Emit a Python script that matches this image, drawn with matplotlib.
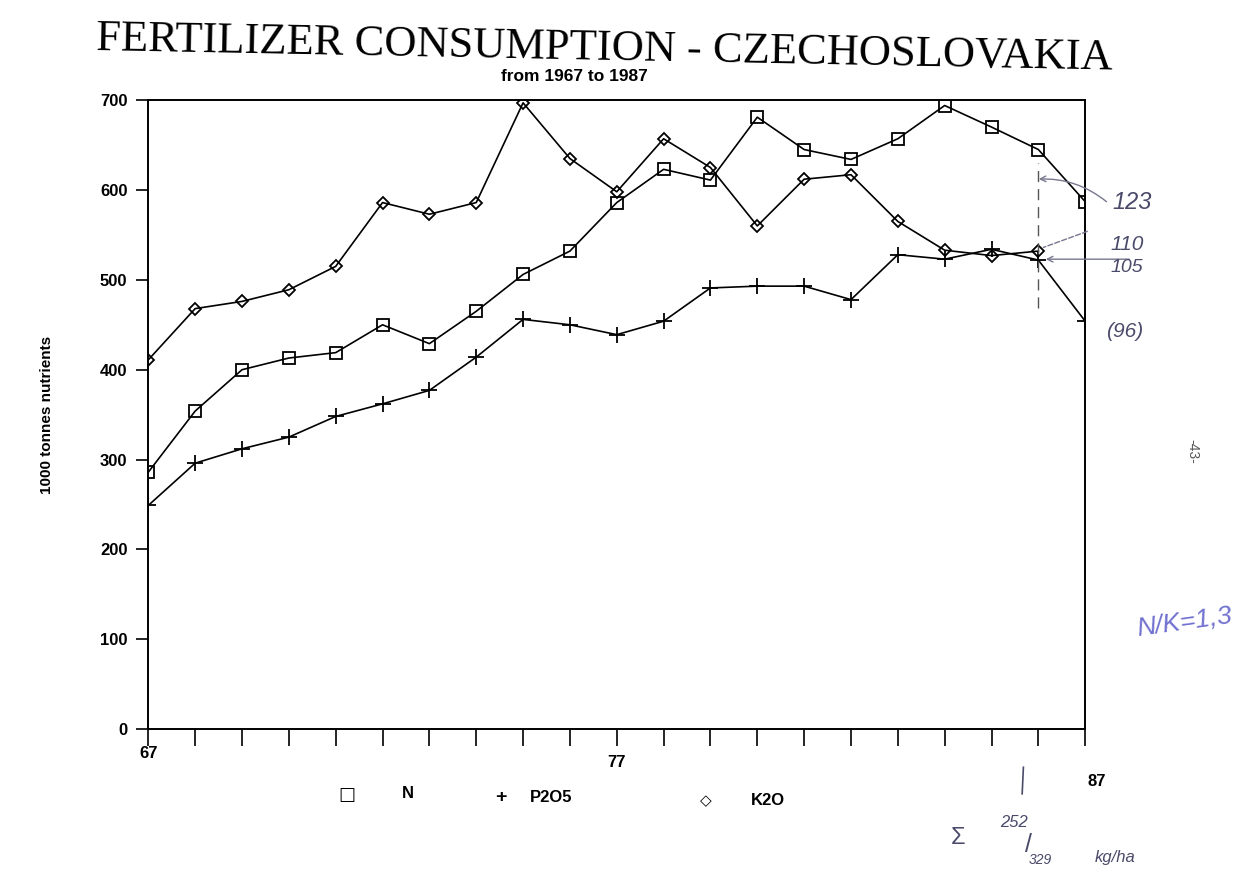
import matplotlib.pyplot as plt
from matplotlib.ticker import FixedLocator, NullFormatter

# Fertilizer consumption, Czechoslovakia 1967-1987 (1000 t nutrients)
years = list(range(67, 88))
n_vals = [286, 354, 400, 413, 419, 450, 429, 465, 506, 532, 586,
          623, 611, 681, 645, 634, 657, 694, 670, 645, 587]
p2o5_vals = [249, 296, 312, 325, 348, 362, 377, 414, 456, 450, 439,
             454, 491, 493, 493, 478, 528, 523, 534, 522, 454]
k2o_years = list(range(67, 87))
k2o_vals = [411, 468, 476, 489, 515, 586, 573, 586, 697, 635, 598,
            657, 625, 560, 612, 617, 565, 533, 527, 532]

y_ticks = [0, 100, 200, 300, 400, 500, 600, 700]
x_labels = [67, 77, 87]

plt.rcParams['font.family'] = 'Liberation Sans'

fig = plt.figure(figsize=(12.36, 8.86), dpi=100)
ax = fig.add_axes([0.120, 0.177, 0.758, 0.710])

ax.plot(years, n_vals, color='black', linewidth=1.2, marker='s', markersize=9,
        markerfacecolor='none', markeredgewidth=1.3)
ax.plot(years, p2o5_vals, color='black', linewidth=1.2, marker='+', markersize=12,
        markeredgewidth=1.3)
ax.plot(k2o_years, k2o_vals, color='black', linewidth=1.2, marker='D', markersize=6,
        markerfacecolor='none', markeredgewidth=1.3)

ax.set_xlim(67, 87)
ax.set_ylim(0, 700)
for s in ax.spines.values():
    s.set_linewidth(1.4)

ax.set_yticks(y_ticks)
ax.set_yticklabels([str(v) for v in y_ticks], fontweight='bold', fontsize=12)
ax.tick_params(axis='y', direction='out', length=9, width=1.2, pad=6)

ax.xaxis.set_major_locator(FixedLocator(years))
ax.xaxis.set_major_formatter(NullFormatter())
ax.tick_params(axis='x', direction='out', length=12, width=1.2)
for xv, dy in zip(x_labels, [-0.038, -0.053, -0.083]):
    ax.text(xv + (0.25 if xv == 87 else 0), dy, str(xv), transform=ax.get_xaxis_transform(),
            ha='center', va='center', fontweight='bold', fontsize=12)

ax.set_ylabel('1000 tonnes nutrients', fontweight='bold', fontsize=11, labelpad=33)

fig.text(0.489, 0.945, 'FERTILIZER CONSUMPTION - CZECHOSLOVAKIA', ha='center', va='center',
         family='Liberation Serif', fontsize=32, rotation=-1.1)
fig.text(0.465, 0.914, 'from 1967 to 1987', ha='center', va='center',
         fontweight='bold', fontsize=12.5)

# legend row
fig.text(0.281, 0.103, '\u25a1', ha='center', va='center', fontsize=13, family='DejaVu Sans')
fig.text(0.330, 0.104, 'N', ha='center', va='center', fontsize=12, fontweight='bold')
fig.text(0.405, 0.100, '+', ha='center', va='center', fontsize=14, fontweight='bold')
fig.text(0.446, 0.100, 'P2O5', ha='center', va='center', fontsize=12, fontweight='bold')
fig.text(0.571, 0.096, '\u25c7', ha='center', va='center', fontsize=11, family='DejaVu Sans')
fig.text(0.621, 0.096, 'K2O', ha='center', va='center', fontsize=12, fontweight='bold')

# handwritten notes on the scan
ink = '#4a4a6a'
fig.text(0.916, 0.771, '123', ha='center', va='center', fontsize=17, color=ink, style='italic')
fig.text(0.912, 0.724, '110', ha='center', va='center', fontsize=15, color=ink, style='italic')
fig.text(0.912, 0.698, '105', ha='center', va='center', fontsize=14, color=ink, style='italic')
fig.text(0.910, 0.626, '(96)', ha='center', va='center', fontsize=15, color=ink, style='italic')
fig.text(0.965, 0.490, '-43-', ha='center', va='center', fontsize=10, color='#555555',
         rotation=-90)
fig.text(0.958, 0.298, 'N/K=1,3', ha='center', va='center', fontsize=19, color='#7070d0',
         style='italic', rotation=8)
fig.text(0.775, 0.054, '\u03a3', ha='center', va='center', fontsize=17, color=ink)
fig.text(0.820, 0.072, '252', ha='center', va='center', fontsize=12, color=ink, style='italic')
fig.text(0.832, 0.046, '/', ha='center', va='center', fontsize=18, color=ink)
fig.text(0.842, 0.029, '329', ha='center', va='center', fontsize=10, color=ink, style='italic')
fig.text(0.902, 0.032, 'kg/ha', ha='center', va='center', fontsize=12, color=ink, style='italic')
fig.lines.append(plt.Line2D([0.828, 0.827], [0.134, 0.104], transform=fig.transFigure,
                            color=ink, linewidth=1.2))
ax.axvline(86, ymin=0.67, ymax=0.90, color='#555555', linewidth=1.0, linestyle=(0, (8, 5)))
ax.annotate('', xy=(85.95, 612), xytext=(87.5, 585), annotation_clip=False,
            arrowprops=dict(arrowstyle='->', color='#777790', lw=1.0,
                            connectionstyle='arc3,rad=0.2'))
ax.annotate('', xy=(86.05, 535), xytext=(87.1, 555), annotation_clip=False,
            arrowprops=dict(arrowstyle='-', color='#777790', lw=1.0, linestyle='--'))
ax.annotate('', xy=(86.1, 523), xytext=(88.0, 523), annotation_clip=False,
            arrowprops=dict(arrowstyle='->', color='#777790', lw=1.0))

fig.savefig('out.png', dpi=100, facecolor='white')
